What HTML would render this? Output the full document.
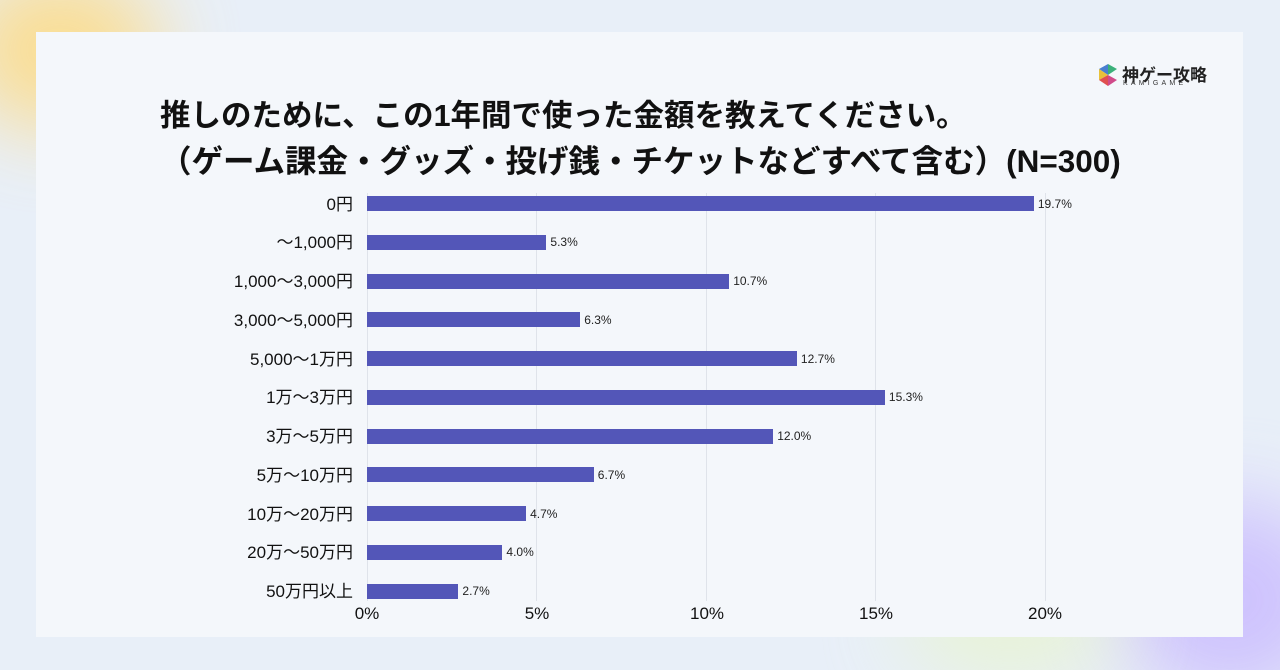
<!DOCTYPE html><html><head><meta charset="utf-8"><style>
html,body{margin:0;width:1280px;height:670px;overflow:hidden}
body{background:#e8eff8;font-family:"Liberation Sans","Noto Sans CJK JP",sans-serif;position:relative}
.blob{position:absolute;border-radius:50%;filter:blur(40px)}
.card{position:absolute;left:36px;top:32px;width:1207px;height:605px;background:#f4f7fb}
.t{position:absolute;font-weight:bold;color:#111;font-size:31px;white-space:nowrap}
.g{position:absolute;top:193px;height:408px;width:1px;background:#dfe3ea}
.bar{position:absolute;left:367px;height:15px;background:#5356b8}
.lab{position:absolute;right:927px;font-size:17px;color:#111;white-space:nowrap}
.v{position:absolute;font-size:12px;color:#222}
.ax{position:absolute;top:604px;font-size:17px;color:#111;transform:translateX(-50%)}
</style></head><body>
<div class="blob" style="left:-40px;top:-30px;width:200px;height:160px;background:#ffd97a;opacity:.8"></div>
<div class="blob" style="left:1120px;top:500px;width:220px;height:200px;background:#c8b8ff;opacity:.8"></div>
<div class="blob" style="left:900px;top:560px;width:220px;height:120px;background:#e8f5c8;opacity:.7"></div>
<div class="card"></div>
<svg style="position:absolute;left:1098px;top:64px" width="20" height="22" viewBox="0 0 20 22"><polygon points="10,0 19,5 10,11" fill="#3bb07a"/><polygon points="10,0 1,5 10,11" fill="#4a7fd0"/><polygon points="1,5 1,16 10,11" fill="#e8c23a"/><polygon points="1,16 10,22 10,11" fill="#e05050"/><polygon points="10,22 19,16 10,11" fill="#d04a8a"/></svg>
<div style="position:absolute;left:1122px;top:61px;font-size:17px;font-weight:bold;color:#222">神ゲー攻略</div>
<div style="position:absolute;left:1123px;top:80px;font-size:7px;letter-spacing:3.2px;color:#333">KAMIGAME</div>
<div class="t" style="left:160px;top:91px;font-size:30.5px">推しのために、この1年間で使った金額を教えてください。</div>
<div class="t" style="left:160px;top:136px;font-size:31.5px">（ゲーム課金・グッズ・投げ銭・チケットなどすべて含む）(N=300)</div>
<div class="g" style="left:367px"></div><div class="g" style="left:536px"></div><div class="g" style="left:706px"></div><div class="g" style="left:875px"></div><div class="g" style="left:1045px"></div>
<div id="c"></div>
<div class="ax" style="left:367px">0%</div><div class="ax" style="left:537px">5%</div><div class="ax" style="left:707px">10%</div><div class="ax" style="left:876px">15%</div><div class="ax" style="left:1045px">20%</div>
<script>
var d=[["0円",19.7],["〜1,000円",5.3],["1,000〜3,000円",10.7],["3,000〜5,000円",6.3],["5,000〜1万円",12.7],["1万〜3万円",15.3],["3万〜5万円",12.0],["5万〜10万円",6.7],["10万〜20万円",4.7],["20万〜50万円",4.0],["50万円以上",2.7]];
var h="";d.forEach(function(r,i){var c=203.5+i*38.75,w=r[1]*33.85;
h+='<div class="bar" style="top:'+(c-7.5)+'px;width:'+w+'px"></div>';
h+='<div class="lab" style="top:'+(c-14)+'px">'+r[0]+'</div>';
h+='<div class="v" style="left:'+(367+w+4)+'px;top:'+(c-7)+'px">'+r[1].toFixed(1)+'%</div>';});
document.getElementById("c").innerHTML=h;
</script></body></html>
